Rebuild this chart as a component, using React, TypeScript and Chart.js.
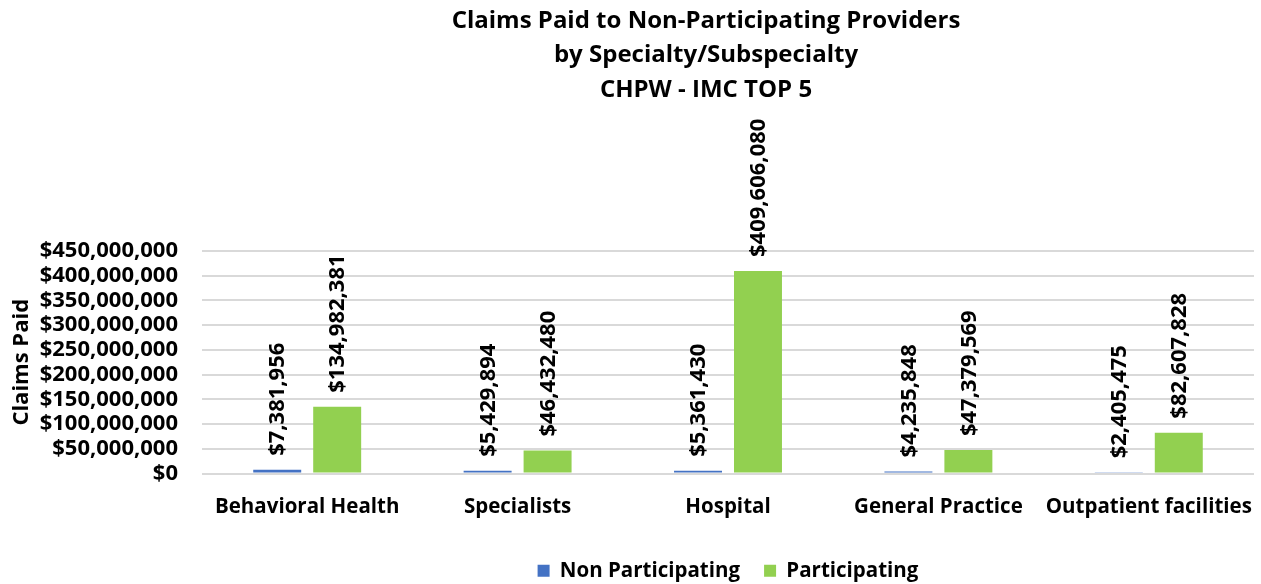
import React, { useEffect, useRef } from "react";
import { Chart, registerables } from "chart.js";

Chart.register(...registerables);

const categories = ["Behavioral Health", "Specialists", "Hospital", "General Practice", "Outpatient facilities"];
const nonParticipating = [7381956, 5429894, 5361430, 4235848, 2405475];
const participating = [134982381, 46432480, 409606080, 47379569, 82607828];
const titleLines = ["Claims Paid to Non-Participating Providers", "by Specialty/Subspecialty", "CHPW - IMC TOP 5"];
const yMax = 450000000;
const yStep = 50000000;

const FONT = "'Open Sans', sans-serif";
const money = (v: number) => "$" + Math.round(v).toLocaleString("en-US");

const titlePlugin = {
  id: "customTitle",
  afterDraw(chart: any) {
    const ctx = chart.ctx;
    ctx.save();
    ctx.font = `bold 24px ${FONT}`;
    ctx.fillStyle = "#000";
    ctx.textAlign = "center";
    ctx.textBaseline = "middle";
    const cx = 706;
    titleLines.forEach((t, i) => ctx.fillText(t, cx, 21 + i * 34.5));
    ctx.restore();
  },
};

const labelPlugin = {
  id: "rotLabels",
  afterDatasetsDraw(chart: any) {
    const ctx = chart.ctx;
    ctx.save();
    ctx.font = `bold 22px ${FONT}`;
    ctx.fillStyle = "#000";
    chart.data.datasets.forEach((ds: any, di: number) => {
      const meta = chart.getDatasetMeta(di);
      meta.data.forEach((bar: any, i: number) => {
        ctx.save();
        ctx.translate(bar.x + 1, bar.y - 14);
        ctx.rotate(-Math.PI / 2);
        ctx.textAlign = "left";
        ctx.textBaseline = "middle";
        ctx.fillText(money(ds.data[i]), 0, 0);
        ctx.restore();
      });
    });
    ctx.restore();
  },
};

export default function App() {
  const ref = useRef<HTMLCanvasElement>(null);
  useEffect(() => {
    document.body.style.margin = "0";
    const chart = new Chart(ref.current!, {
      type: "bar",
      data: {
        labels: categories,
        datasets: [
          {
            label: "Non Participating",
            data: nonParticipating,
            backgroundColor: "#4472c4",
            borderWidth: 0,
            categoryPercentage: 0.57,
            barPercentage: 0.8,
          },
          {
            label: "Participating",
            data: participating,
            backgroundColor: "#92d050",
            borderWidth: 0,
            categoryPercentage: 0.57,
            barPercentage: 0.8,
          },
        ],
      },
      options: {
        responsive: false,
        animation: false,
        layout: { padding: { top: 251, right: 7, bottom: -7, left: 0 } },
        plugins: {
          title: { display: false },
          tooltip: { enabled: false },
          legend: {
            position: "bottom",
            fullSize: false,
            labels: {
              font: { family: FONT, size: 20.5, weight: "bold" },
              color: "#000",
              boxWidth: 12,
              boxHeight: 12,
              padding: 24,
            },
          },
        },
        scales: {
          x: {
            grid: { display: false, drawTicks: false },
            border: { display: false },
            ticks: {
              color: "#000",
              font: { family: FONT, size: 20.5, weight: "bold" },
              padding: 21,
              maxRotation: 0,
              autoSkip: false,
            },
            afterFit(scale: any) {
              scale.height = 63;
              scale.paddingLeft = 0;
              scale.paddingRight = 0;
            },
          },
          y: {
            min: 0,
            max: yMax,
            grid: { color: "#d9d9d9", lineWidth: 2, drawTicks: false },
            border: { display: false },
            ticks: {
              stepSize: yStep,
              autoSkip: false,
              color: "#000",
              font: { family: FONT, size: 22, weight: "bold" },
              padding: 24,
              callback: (v: any) => money(Number(v)),
            },
            title: {
              display: true,
              text: "Claims Paid",
              color: "#000",
              font: { family: FONT, size: 22, weight: "bold" },
              padding: { top: 9, bottom: 0 },
            },
            afterFit(scale: any) {
              scale.width = 202;
            },
          },
        },
      },
      plugins: [titlePlugin, labelPlugin],
    });
    return () => chart.destroy();
  }, []);
  return (
    <div style={{ position: "absolute", left: 0, top: 0, width: 1261, height: 584 }}>
      <canvas ref={ref} width={1261} height={584} />
    </div>
  );
}
